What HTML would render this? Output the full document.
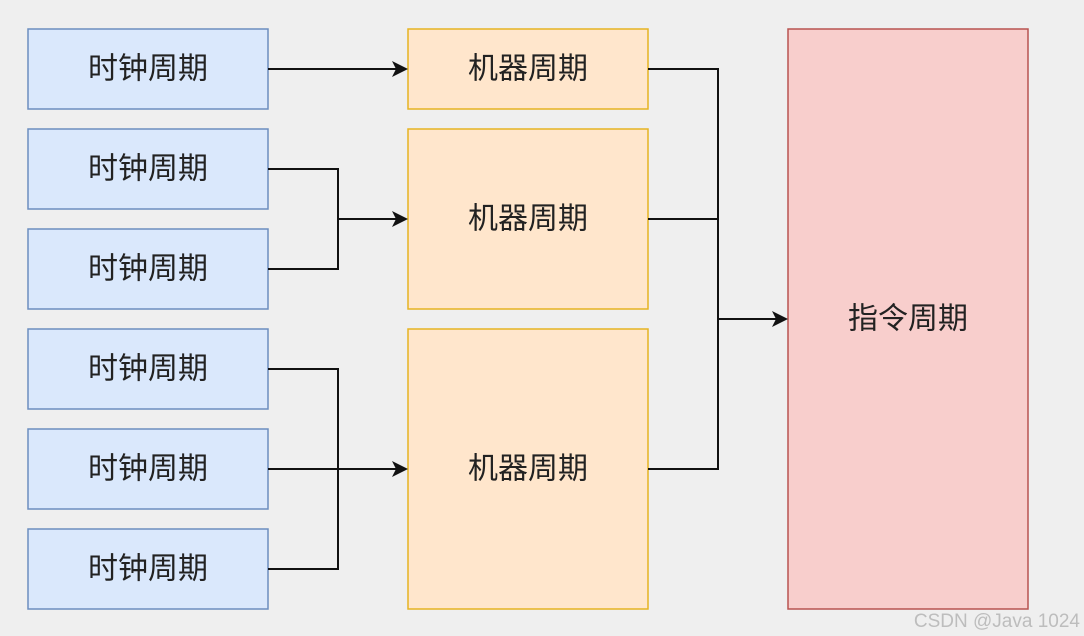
<!DOCTYPE html>
<html><head><meta charset="utf-8"><style>
html,body{margin:0;padding:0;background:#efefef;}
svg{display:block}
text{font-family:"Liberation Sans","Noto Sans CJK SC",sans-serif;}
</style></head><body>
<svg width="1084" height="636" viewBox="0 0 1084 636" xmlns="http://www.w3.org/2000/svg">
<rect width="1084" height="636" fill="#efefef"/>
<g fill="#dae8fc" stroke="#6c8ebf" stroke-width="1.5">
<rect x="28" y="29" width="240" height="80"/>
<rect x="28" y="129" width="240" height="80"/>
<rect x="28" y="229" width="240" height="80"/>
<rect x="28" y="329" width="240" height="80"/>
<rect x="28" y="429" width="240" height="80"/>
<rect x="28" y="529" width="240" height="80"/>
</g>
<g fill="#ffe6cc" stroke="#e6b422" stroke-width="1.5">
<rect x="408" y="29" width="240" height="80"/>
<rect x="408" y="129" width="240" height="180"/>
<rect x="408" y="329" width="240" height="280"/>
</g>
<rect x="788" y="29" width="240" height="580" fill="#f8cecc" stroke="#b85450" stroke-width="1.5"/>
<g fill="none" stroke="#111" stroke-width="2">
<path d="M268 69 H396"/>
<path d="M268 169 H338 V269 H268 M338 219 H396"/>
<path d="M268 369 H338 V569 H268 M268 469 H396"/>
<path d="M648 69 H718 V469 H648 M648 219 H718 M718 319 H776"/>
</g>
<g fill="#111">
<path d="M408 69 L392 61 L396 69 L392 77 Z"/>
<path d="M408 219 L392 211 L396 219 L392 227 Z"/>
<path d="M408 469 L392 461 L396 469 L392 477 Z"/>
<path d="M788 319 L772 311 L776 319 L772 327 Z"/>
</g>
<g font-size="30" fill="#222" text-anchor="middle" dominant-baseline="central">
<text x="148" y="69">时钟周期</text>
<text x="148" y="169">时钟周期</text>
<text x="148" y="269">时钟周期</text>
<text x="148" y="369">时钟周期</text>
<text x="148" y="469">时钟周期</text>
<text x="148" y="569">时钟周期</text>
<text x="528" y="69">机器周期</text>
<text x="528" y="219">机器周期</text>
<text x="528" y="469">机器周期</text>
<text x="908" y="319">指令周期</text>
</g>
<text x="1080" y="627" font-size="19" fill="#bdbdbd" text-anchor="end">CSDN @Java 1024</text>
</svg>
</body></html>
